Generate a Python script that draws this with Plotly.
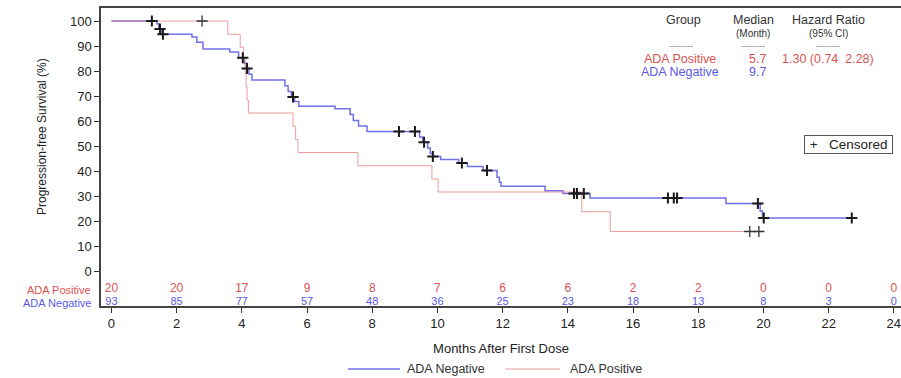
import plotly.graph_objects as go

# Kaplan-Meier step data: event times (months) and survival (%) after each step
neg_times = [0, 1.40, 1.45, 1.55, 2.47, 2.62, 2.81, 3.63, 3.90, 4.08, 4.14, 4.22, 4.31,
             5.32, 5.42, 5.52, 5.62, 5.75, 6.86, 7.32, 7.42, 7.58, 7.84, 9.45, 9.55,
             9.70, 9.78, 9.86, 10.10, 10.65, 10.92, 11.40, 11.83, 11.90, 11.95, 13.30,
             13.85, 14.68, 18.85, 19.90, 19.97, 22.71]
neg_surv = [100, 98.9, 96.8, 94.7, 93.6, 91.5, 88.8, 87.6, 85.3, 83.1, 81.0, 78.7, 76.4,
            74.1, 71.8, 69.6, 67.8, 65.9, 64.9, 62.6, 60.2, 58.0, 55.8, 53.6, 51.5,
            49.2, 47.0, 45.8, 44.6, 43.2, 41.8, 40.2, 37.5, 35.5, 33.9, 32.1,
            31.0, 29.2, 27.0, 24.0, 21.2, 21.2]
neg_cens_t = [1.24, 1.49, 1.58, 4.03, 4.16, 5.57, 8.82, 9.31, 9.59, 9.86, 10.75, 11.52,
              14.19, 14.28, 14.49, 17.07, 17.25, 17.35, 19.83, 20.01, 22.71]
neg_cens_s = [100, 96.8, 94.7, 85.3, 81.0, 69.6, 55.8, 55.8, 51.5, 45.8, 43.2, 40.2,
              31.0, 31.0, 31.0, 29.2, 29.2, 29.2, 27.0, 21.2, 21.2]

pos_times = [0, 3.57, 3.95, 4.05, 4.10, 4.13, 4.16, 4.20, 5.57, 5.65, 5.72, 7.56,
             9.83, 10.02, 14.43, 15.30, 19.86]
pos_surv = [100, 94.7, 89.5, 84.2, 78.9, 73.7, 68.4, 63.2, 57.9, 52.6, 47.4, 42.1,
            36.8, 31.6, 23.7, 15.8, 15.8]
pos_cens_t = [2.78, 19.58, 19.86]
pos_cens_s = [100, 15.8, 15.8]

# Numbers at risk
risk_months = [0, 2, 4, 6, 8, 10, 12, 14, 16, 18, 20, 22, 24]
risk_pos = [20, 20, 17, 9, 8, 7, 6, 6, 2, 2, 0, 0, 0]
risk_neg = [93, 85, 77, 57, 48, 36, 25, 23, 18, 13, 8, 3, 0]

y_ticks = [0, 10, 20, 30, 40, 50, 60, 70, 80, 90, 100]
x_ticks = [0, 2, 4, 6, 8, 10, 12, 14, 16, 18, 20, 22, 24]

RED = "#d9534f"
BLUE = "#5a5ae6"
NEG_LINE = "#7070ea"
POS_LINE = "rgba(232,120,120,0.75)"
FONT = "Arial, Liberation Sans, sans-serif"

# plot area geometry (pixels)
L, R, T, B = 101, 0, 8, 72
W, H = 901, 378
PW, PH = W - L - R, H - T - B

ROW_POS, ROW_NEG = -7.2, -12.6


def px_x(p):
    return (p - L) / PW


def px_y(p):
    return 1 - (p - T) / PH


fig = go.Figure()

fig.add_trace(go.Scatter(
    x=neg_times, y=neg_surv, mode="lines", line_shape="hv",
    line=dict(color=NEG_LINE, width=1.5), name="ADA Negative", showlegend=False,
))
fig.add_trace(go.Scatter(
    x=pos_times, y=pos_surv, mode="lines", line_shape="hv",
    line=dict(color=POS_LINE, width=1), name="ADA Positive", showlegend=False,
))
fig.add_trace(go.Scatter(
    x=neg_cens_t, y=neg_cens_s, mode="markers", name="Censored", showlegend=False,
    marker=dict(symbol="cross-thin", size=8, line=dict(color="#1a1a1a", width=2)),
))
fig.add_trace(go.Scatter(
    x=pos_cens_t, y=pos_cens_s, mode="markers", showlegend=False,
    marker=dict(symbol="cross-thin", size=8, line=dict(color="#333", width=1.3)),
))

# number-at-risk rows inside the plotting area
fig.add_trace(go.Scatter(
    x=risk_months, y=[ROW_POS] * len(risk_months), mode="text",
    text=[str(v) for v in risk_pos], textfont=dict(color=RED, size=12, family=FONT),
    showlegend=False, hoverinfo="skip", cliponaxis=False,
))
fig.add_trace(go.Scatter(
    x=risk_months, y=[ROW_NEG] * len(risk_months), mode="text",
    text=[str(v) for v in risk_neg], textfont=dict(color=BLUE, size=11, family=FONT),
    showlegend=False, hoverinfo="skip", cliponaxis=False,
))

annotations = []
# row labels for number at risk
for label, yv, col in [("ADA Positive", ROW_POS, RED), ("ADA Negative", ROW_NEG, BLUE)]:
    annotations.append(dict(
        x=0.0, xref="paper", y=yv, yref="y", text=label, showarrow=False,
        xanchor="right", yanchor="middle", xshift=-9, height=13, borderpad=0,
        font=dict(color=col, size=11, family=FONT),
    ))

# y-axis title
annotations.append(dict(
    x=px_x(42), xref="paper", y=px_y(137), yref="paper",
    text="Progression-free Survival (%)", textangle=-90, showarrow=False,
    xanchor="center", yanchor="middle", font=dict(size=12, color="#222", family=FONT),
))

# summary table in the upper right
table = [
    ("Group", 683, 20, "#333", 12.5),
    ("Median", 753, 20, "#333", 12.5),
    ("(Month)", 753, 33, "#333", 10),
    ("Hazard Ratio", 828, 20, "#333", 12.5),
    ("(95% CI)", 828, 33, "#333", 10),
    ("--------", 681, 46, "#777", 9),
    ("--------", 753, 46, "#777", 9),
    ("--------", 828, 46, "#777", 9),
    ("ADA Positive", 680, 59, RED, 12.5),
    ("5.7", 757, 59, RED, 12.5),
    ("1.30 (0.74  2.28)", 828, 59, RED, 12.5),
    ("ADA Negative", 680, 72, BLUE, 12.5),
    ("9.7", 757, 72, BLUE, 12.5),
]
for txt, xp, yp, col, sz in table:
    annotations.append(dict(
        x=px_x(xp), xref="paper", y=px_y(yp), yref="paper", text=txt,
        showarrow=False, xanchor="center", yanchor="middle",
        font=dict(color=col, size=sz, family=FONT),
    ))

# censoring key box
annotations.append(dict(
    x=px_x(893), xref="paper", y=px_y(144), yref="paper",
    text="\u00a0+\u00a0\u00a0 Censored\u00a0", showarrow=False, xanchor="right",
    yanchor="middle", font=dict(size=13.5, color="#222", family=FONT),
    bordercolor="#555", borderwidth=1, borderpad=1, bgcolor="white",
))

# line key below the axis title
shapes = []
key = [("ADA Negative", NEG_LINE, 1.5, 348, 400, 405),
       ("ADA Positive", POS_LINE, 1, 505, 560, 568)]
for name, col, lw, x0, x1, xt in key:
    shapes.append(dict(type="line", xref="paper", yref="paper",
                       x0=px_x(x0), x1=px_x(x1), y0=px_y(369), y1=px_y(369),
                       line=dict(color=col, width=lw)))
    annotations.append(dict(
        x=px_x(xt), xref="paper", y=px_y(369), yref="paper", text=name,
        showarrow=False, xanchor="left", yanchor="middle",
        font=dict(size=12.5, color="#333", family=FONT),
    ))

fig.update_layout(
    width=W, height=H,
    margin=dict(l=L, r=R, t=T, b=B),
    paper_bgcolor="white", plot_bgcolor="white",
    font=dict(family=FONT, color="#222", size=12),
    xaxis=dict(
        range=[-0.32, -0.32 + PW / 32.6], tickvals=x_ticks, ticks="outside", ticklen=5,
        tickcolor="#333", showline=True, linecolor="#444", linewidth=1.5, mirror=True,
        showgrid=False, zeroline=False, tickfont=dict(size=13, color="#222"),
        ticklabeloverflow="allow",
        title=dict(text="Months After First Dose", font=dict(size=13, color="#222"),
                   standoff=14),
    ),
    yaxis=dict(
        range=[-14, 105.2], tickvals=y_ticks, ticks="outside", ticklen=5,
        tickcolor="#333", showline=True, linecolor="#444", linewidth=1.5,
        showgrid=False, zeroline=False, tickfont=dict(size=13, color="#222"),
    ),
    annotations=annotations,
    shapes=shapes,
    showlegend=False,
)

fig.write_html("out.html")
